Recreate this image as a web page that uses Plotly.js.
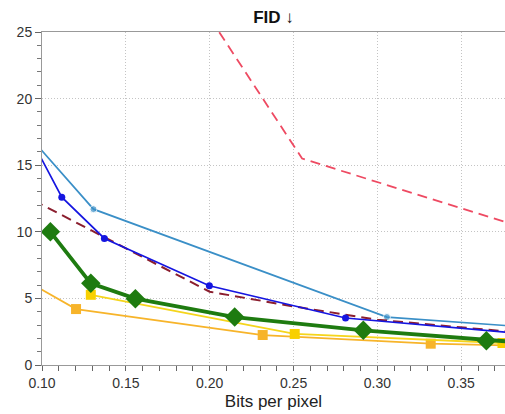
<!DOCTYPE html>
<html>
<head>
<meta charset="utf-8">
<script src="https://cdn.plot.ly/plotly-3.0.1.min.js"></script>
<style>html,body{margin:0;padding:0;background:#fff;}#chart{width:505px;height:414px;}</style>
</head>
<body>
<div id="chart"></div>
<script>
// Red dashed series (no markers)
const redX = [0.190, 0.2551, 0.400];
const redY = [28.0, 15.5, 9.8];
// Light blue with small circle markers
const lblueX = [0.095, 0.1307, 0.3057, 0.400];
const lblueY = [16.8, 11.7, 3.6, 2.75];
const lblueMarkX = [0.1307, 0.3057];
// Blue with small circle markers
const blueX = [0.095, 0.1118, 0.1372, 0.1998, 0.2810, 0.400];
const blueY = [16.6, 12.6, 9.5, 5.95, 3.53, 2.2];
// Dark red dashed
const dredX = [0.095, 0.20, 0.25, 0.30, 0.400];
const dredY = [12.35, 5.5, 4.4, 3.4, 2.25];
// Green thick with diamonds
const greenX = [0.1050, 0.1291, 0.1557, 0.2149, 0.2916, 0.3650, 0.400];
const greenY = [10.0, 6.13, 4.98, 3.6, 2.6, 1.82, 1.55];
// Gold with squares
const goldX = [0.1291, 0.2507, 0.3746];
const goldY = [5.27, 2.33, 1.65];
// Orange with squares
const orangeX = [0.095, 0.1203, 0.2316, 0.3318, 0.400];
const orangeY = [6.0, 4.2, 2.25, 1.6, 1.4];

const xTickVals = [0.10, 0.15, 0.20, 0.25, 0.30, 0.35];
const xTickText = ['0.10', '0.15', '0.20', '0.25', '0.30', '0.35'];
const yTickVals = [0, 5, 10, 15, 20, 25];

function markerMask(xs, keep) {
  return xs.map(x => keep.includes(x) ? 7 : 0);
}

const traces = [
  {x: redX, y: redY, mode: 'lines', line: {color: '#ee4a62', width: 1.8, dash: '10px,6px'}},
  {x: lblueX, y: lblueY, mode: 'lines+markers', line: {color: '#3a8fc7', width: 1.7},
   marker: {color: '#3a8fc7', size: markerMask(lblueX, lblueMarkX), symbol: 'circle'}},
  {x: dredX, y: dredY, mode: 'lines', line: {color: '#8b1e2e', width: 2, dash: '10px,6px'}},
  {x: blueX, y: blueY, mode: 'lines+markers', line: {color: '#1515e0', width: 1.7},
   marker: {color: '#1515e0', size: 7, symbol: 'circle'}},
  {x: orangeX, y: orangeY, mode: 'lines+markers', line: {color: '#f7b42a', width: 1.8},
   marker: {color: '#f7b42a', size: 10, symbol: 'square'}},
  {x: goldX, y: goldY, mode: 'lines+markers', line: {color: '#f5d51c', width: 1.8},
   marker: {color: '#f8d000', size: 10, symbol: 'square'}},
  {x: greenX, y: greenY, mode: 'lines+markers', line: {color: '#1e7b10', width: 3.8},
   marker: {color: '#1e7b10', size: 15, symbol: 'diamond'}}
];

const axisFont = {family: 'Liberation Sans, Arial, sans-serif', size: 14, color: '#333'};

const layout = {
  width: 505, height: 414,
  margin: {l: 42, r: 0, t: 31.7, b: 49, pad: 0},
  paper_bgcolor: '#fff', plot_bgcolor: '#fff',
  showlegend: false,
  title: {text: '<b>FID ↓</b>', x: 0.5, xref: 'paper', y: 0.958, yref: 'container', yanchor: 'middle',
          font: {family: 'Liberation Sans, Arial, sans-serif', size: 17, color: '#111'}},
  xaxis: {
    range: [0.10, 0.3761], tickvals: xTickVals, ticktext: xTickText,
    showline: true, linecolor: '#999', linewidth: 1, mirror: true,
    ticks: 'outside', ticklen: 5, tickcolor: '#666', tickwidth: 1,
    showgrid: true, gridcolor: '#c4c4c4', griddash: '1px,2px', gridwidth: 1,
    minor: {dtick: 0.01, tick0: 0.10, ticks: 'outside', ticklen: 5, tickcolor: '#666', showgrid: false},
    zeroline: false, tickfont: axisFont,
    title: {text: 'Bits per pixel', font: {family: 'Liberation Sans, Arial, sans-serif', size: 17, color: '#222'}, standoff: 5}
  },
  yaxis: {
    range: [0, 25], tickvals: yTickVals,
    showline: true, linecolor: '#999', linewidth: 1,
    ticks: 'outside', ticklen: 6, tickcolor: '#666', tickwidth: 1,
    showgrid: true, gridcolor: '#c4c4c4', griddash: '1px,2px', gridwidth: 1,
    minor: {dtick: 1, tick0: 0, ticks: 'outside', ticklen: 4, tickcolor: '#777', showgrid: false},
    zeroline: false, tickfont: axisFont
  }
};

Plotly.newPlot('chart', traces, layout, {displayModeBar: false, staticPlot: true});
</script>
</body>
</html>
